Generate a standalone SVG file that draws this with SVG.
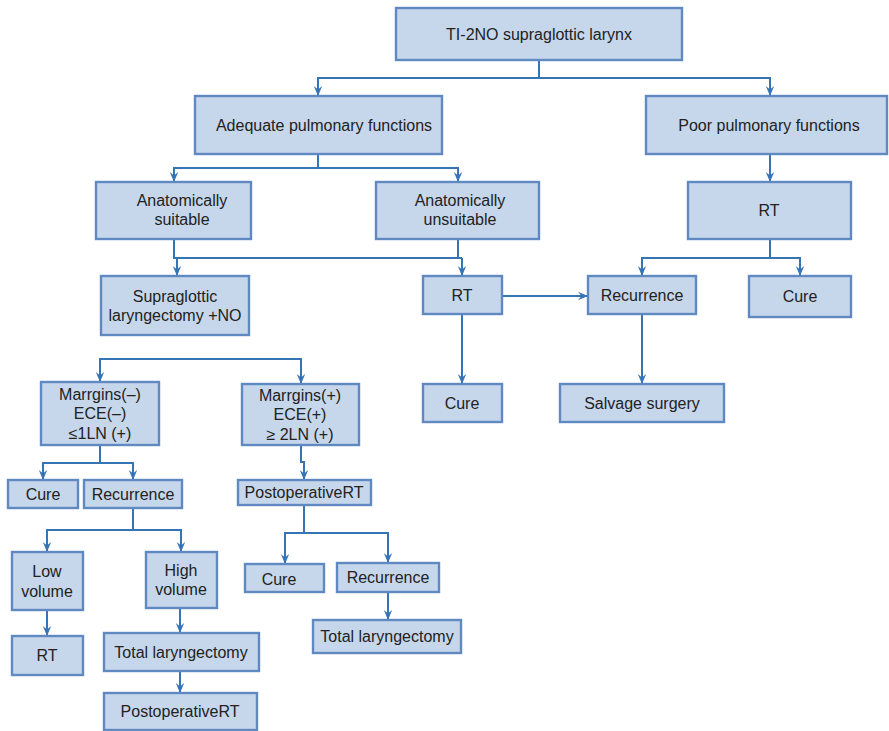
<svg xmlns="http://www.w3.org/2000/svg" width="889" height="731" viewBox="0 0 889 731">
<defs>
<marker id="ah" viewBox="0 0 10 10" refX="10" refY="5" markerWidth="10" markerHeight="10" markerUnits="userSpaceOnUse" orient="auto">
<path d="M0,0.8 L10,5 L0,9.2 L3.5,5 z" fill="#3574b5"/>
</marker>
<style>
.n rect{fill:#c6d7ec;stroke:#6089c2;stroke-width:2.4}
.n text{font-family:"Liberation Sans",Arial,sans-serif;font-size:16px;fill:#222;text-anchor:middle}
#connectors path{fill:none;stroke:#3574b5;stroke-width:2}
.a{marker-end:url(#ah)}
</style>
</defs>
<rect width="889" height="731" fill="#fff"/>
<g id="connectors">
<path class="a" d="M539,60 V78 H318 V96"/>
<path class="a" d="M539,78 H770 V96"/>
<path class="a" d="M318,154 V168 H174 V182"/>
<path class="a" d="M318,168 H458 V182"/>
<path class="a" d="M770,154 V182"/>
<path d="M174,239 V258 H462"/>
<path d="M458,239 V258"/>
<path class="a" d="M177,258 V276"/>
<path class="a" d="M462,258 V276"/>
<path class="a" d="M770,239 V258 H642 V276"/>
<path class="a" d="M770,258 H800 V276"/>
<path class="a" d="M502,296 H588"/>
<path class="a" d="M462,314 V384"/>
<path class="a" d="M642,314 V384"/>
<path class="a" d="M301,359 H100 V382"/>
<path class="a" d="M100,359 H301 V384"/>
<path class="a" d="M100,445 V463 H43 V480"/>
<path class="a" d="M100,463 H133 V480"/>
<path class="a" d="M301,445 V462 H304 V480"/>
<path class="a" d="M133,508 V530 H47 V552"/>
<path class="a" d="M133,530 H181 V552"/>
<path class="a" d="M47,610 V636"/>
<path class="a" d="M180,608 V633"/>
<path class="a" d="M180,671 V693"/>
<path class="a" d="M304,505 V533 H285 V564"/>
<path class="a" d="M304,533 H388 V563"/>
<path class="a" d="M388,592 V620"/>
</g>
<g id="n1" class="n"><rect x="396" y="8" width="286" height="52"/><text x="539" y="40">TI-2NO supraglottic larynx</text></g>
<g id="n2" class="n"><rect x="195" y="96" width="247" height="58"/><text x="324" y="131">Adequate pulmonary functions</text></g>
<g id="n3" class="n"><rect x="646" y="96" width="241" height="58"/><text x="769" y="131">Poor pulmonary functions</text></g>
<g id="n4" class="n"><rect x="96" y="182" width="155" height="57"/><text x="182" y="206">Anatomically</text><text x="182" y="225">suitable</text></g>
<g id="n5" class="n"><rect x="376" y="182" width="163" height="57"/><text x="460" y="206">Anatomically</text><text x="460" y="225">unsuitable</text></g>
<g id="n6" class="n"><rect x="688" y="182" width="163" height="57"/><text x="769" y="216">RT</text></g>
<g id="n7" class="n"><rect x="101" y="276" width="148" height="59"/><text x="175" y="302">Supraglottic</text><text x="175" y="321">laryngectomy +NO</text></g>
<g id="n8" class="n"><rect x="423" y="276" width="79" height="38"/><text x="462" y="301">RT</text></g>
<g id="n9" class="n"><rect x="588" y="276" width="108" height="38"/><text x="642" y="301">Recurrence</text></g>
<g id="n10" class="n"><rect x="749" y="276" width="102" height="41"/><text x="800" y="302">Cure</text></g>
<g id="n11" class="n"><rect x="423" y="384" width="79" height="38"/><text x="462" y="409">Cure</text></g>
<g id="n12" class="n"><rect x="560" y="384" width="164" height="38"/><text x="642" y="409">Salvage surgery</text></g>
<g id="n13" class="n"><rect x="41" y="382" width="118" height="63"/><text x="100" y="400">Marrgins(–)</text><text x="100" y="419">ECE(–)</text><text x="100" y="439">≤1LN (+)</text></g>
<g id="n14" class="n"><rect x="242" y="384" width="117" height="61"/><text x="300" y="401">Marrgins(+)</text><text x="300" y="420">ECE(+)</text><text x="300" y="440">≥ 2LN (+)</text></g>
<g id="n15" class="n"><rect x="8" y="480" width="70" height="28"/><text x="43" y="500">Cure</text></g>
<g id="n16" class="n"><rect x="84" y="480" width="98" height="28"/><text x="133" y="500">Recurrence</text></g>
<g id="n17" class="n"><rect x="238" y="480" width="133" height="25"/><text x="304" y="498">PostoperativeRT</text></g>
<g id="n18" class="n"><rect x="12" y="552" width="71" height="58"/><text x="47" y="577">Low</text><text x="47" y="597">volume</text></g>
<g id="n19" class="n"><rect x="146" y="552" width="71" height="56"/><text x="181" y="576">High</text><text x="181" y="595">volume</text></g>
<g id="n20" class="n"><rect x="12" y="636" width="71" height="39"/><text x="47" y="661">RT</text></g>
<g id="n21" class="n"><rect x="104" y="633" width="155" height="38"/><text x="181" y="658">Total laryngectomy</text></g>
<g id="n22" class="n"><rect x="104" y="693" width="153" height="37"/><text x="180" y="717">PostoperativeRT</text></g>
<g id="n23" class="n"><rect x="245" y="564" width="79" height="28"/><text x="279" y="585">Cure</text></g>
<g id="n24" class="n"><rect x="337" y="563" width="102" height="29"/><text x="388" y="583">Recurrence</text></g>
<g id="n25" class="n"><rect x="313" y="620" width="148" height="33"/><text x="387" y="642">Total laryngectomy</text></g>
</svg>
